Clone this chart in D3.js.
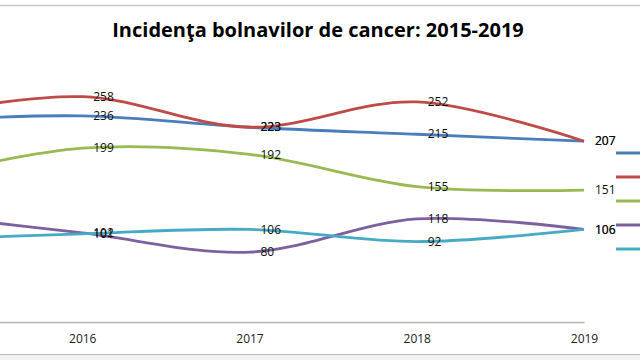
<!DOCTYPE html>
<html><head><meta charset="utf-8">
<script src="https://cdn.jsdelivr.net/npm/d3@7"></script>
<style>body{margin:0;background:#fff;}svg{display:block;}</style>
</head><body>
<svg id="c" width="640" height="360"></svg>
<script>
const years = ["2015","2016","2017","2018","2019"];
const seriesNames = ["Seria 1","Seria 2","Seria 3","Seria 4","Seria 5"];
const seriesA = [230, 236, 223, 215, 207];
const seriesB = [236, 258, 223, 252, 207];
const seriesC = [164, 199, 192, 155, 151];
const seriesD = [124, 102, 80, 118, 106];
const seriesE = [94, 101, 106, 92, 106];
const colors = ["#4a7ebb", "#be4b48", "#98b954", "#7d60a0", "#46aac5"];
const title = "Incidenţa bolnavilor de cancer: 2015-2019";

const allSeries = [seriesA, seriesB, seriesC, seriesD, seriesE];
const svg = d3.select("#c");

// chart borders
svg.append("rect").attr("x",0).attr("y",354.5).attr("width",640).attr("height",6).attr("fill","#f2f2f2");
svg.append("line").attr("x1",0).attr("x2",640).attr("y1",5.5).attr("y2",5.5).attr("stroke","#c8c8c8").attr("stroke-width",1.5);
svg.append("line").attr("x1",0).attr("x2",640).attr("y1",354.5).attr("y2",354.5).attr("stroke","#b8b8b8").attr("stroke-width",1.2);

const x = d3.scalePoint().domain(years).range([-85, 584]);
const y = d3.scaleLinear().domain([0, 300]).range([322, 60]);

svg.append("text").attr("x", 318).attr("y", 37).attr("text-anchor","middle")
  .attr("font-family","'Open Sans', Lato, sans-serif").attr("font-weight","bold")
  .attr("font-size", 20).attr("fill","#000").text(title);

// x axis (2015 tick lies left of the visible area)
const ax = svg.append("g").attr("transform","translate(0,322)")
  .call(d3.axisBottom(x).tickSize(0).tickPadding(12).tickValues(years.filter(v=>x(v)>=0)));
ax.select(".domain").attr("stroke","#b4b4b4").attr("stroke-width",1.3);
ax.selectAll("text").attr("font-family","'Open Sans', sans-serif").attr("font-size",12).attr("fill","#222");

const line = d3.line().x((d,i)=>x(years[i])).y(d=>y(d)).curve(d3.curveCardinal.tension(0));

allSeries.forEach((s,k)=>{
  svg.append("path").attr("d", line(s)).attr("fill","none")
    .attr("stroke", colors[k]).attr("stroke-width", 2.8);
});
allSeries.forEach((s,k)=>{
  const pts = s.map((v,i)=>({v, yr: years[i]})).filter(p=>x(p.yr)>=0);
  svg.append("g").selectAll("text").data(pts).join("text")
    .attr("x",p=>x(p.yr) + 11).attr("y", p=>y(p.v)).attr("dy","0.35em")
    .attr("font-family","'Open Sans', sans-serif").attr("font-size",12).attr("fill","#111")
    .text(p=>p.v);
});

// legend keys (names fall beyond the visible area)
allSeries.forEach((s,k)=>{
  svg.append("line").attr("x1",616).attr("x2",660).attr("y1",153+k*24).attr("y2",153+k*24)
    .attr("stroke",colors[k]).attr("stroke-width",2.8);
});
</script>
</body></html>
